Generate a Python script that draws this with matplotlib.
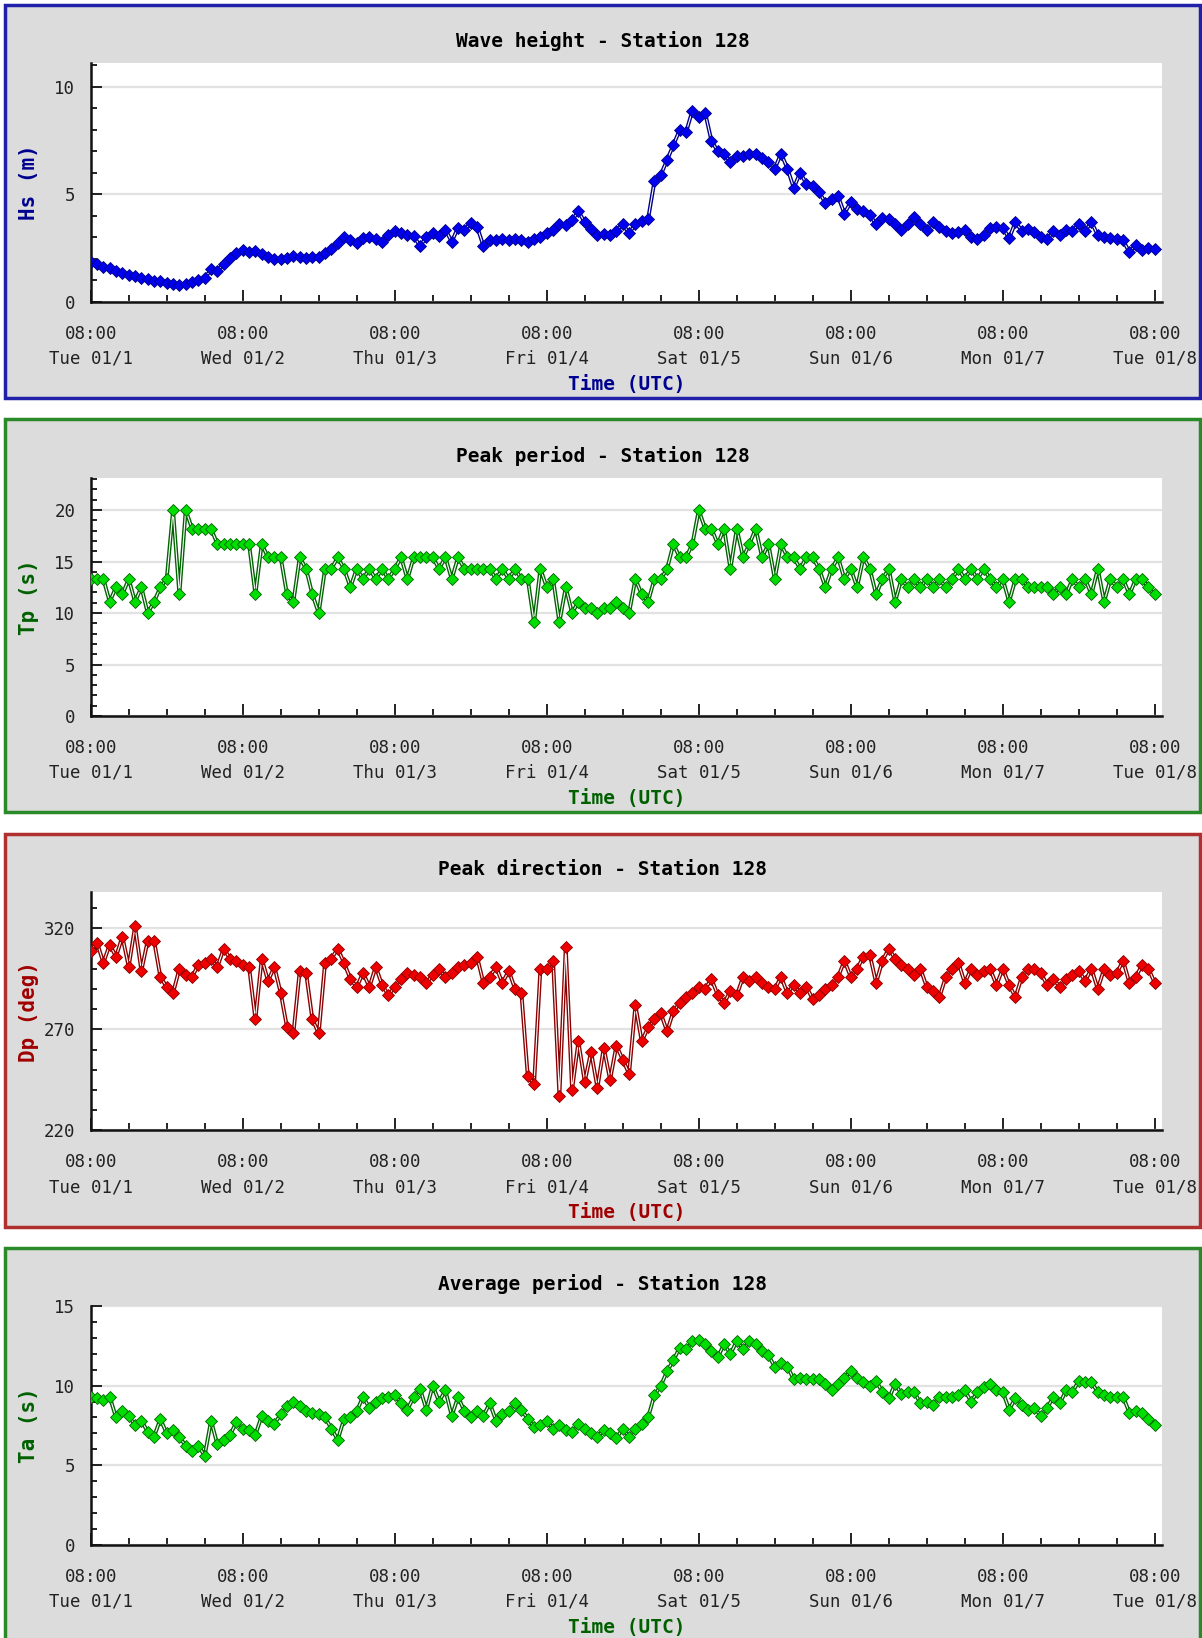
import numpy as np
import matplotlib
matplotlib.use('Agg')
import matplotlib.pyplot as plt
import matplotlib.patheffects as pe
from matplotlib.patches import Rectangle
from matplotlib.ticker import MultipleLocator

plt.rcParams['font.family'] = ['DejaVu Sans Mono']

# hourly samples from Tue 01/1 08:00 UTC to Tue 01/8 08:00 UTC
day_labels = ['Tue 01/1', 'Wed 01/2', 'Thu 01/3', 'Fri 01/4',
              'Sat 01/5', 'Sun 01/6', 'Mon 01/7', 'Tue 01/8']

# wave height (m)
hs = [1.86, 1.75, 1.63, 1.55, 1.42, 1.35, 1.26, 1.20, 1.10, 1.05, 0.98, 0.95, 0.85, 0.82, 0.78, 0.82, 0.90, 1.00, 1.10, 1.50, 1.45, 1.75, 2.05, 2.25,
      2.40, 2.30, 2.35, 2.20, 2.10, 2.00, 1.97, 2.05, 2.15, 2.10, 2.05, 2.10, 2.10, 2.25, 2.45, 2.75, 3.00, 2.85, 2.75, 2.95, 3.00, 2.90, 2.80, 3.10,
      3.30, 3.20, 3.10, 3.05, 2.60, 3.00, 3.20, 3.05, 3.35, 2.80, 3.45, 3.35, 3.65, 3.50, 2.60, 2.85, 2.85, 2.90, 2.85, 2.90, 2.85, 2.80, 2.90, 3.00,
      3.20, 3.35, 3.60, 3.55, 3.80, 4.20, 3.70, 3.40, 3.10, 3.15, 3.10, 3.30, 3.60, 3.20, 3.60, 3.75, 3.85, 5.60, 5.90, 6.60, 7.30, 8.00, 7.90, 8.90,
      8.60, 8.80, 7.50, 7.00, 6.90, 6.50, 6.80, 6.80, 6.90, 6.90, 6.70, 6.50, 6.20, 6.90, 6.20, 5.30, 6.00, 5.50, 5.40, 5.10, 4.60, 4.80, 4.90, 4.10,
      4.65, 4.30, 4.20, 4.05, 3.60, 3.90, 3.85, 3.60, 3.35, 3.60, 3.95, 3.60, 3.35, 3.70, 3.50, 3.30, 3.20, 3.25, 3.35, 3.00, 2.90, 3.10, 3.45, 3.50,
      3.45, 2.95, 3.70, 3.30, 3.40, 3.25, 3.00, 2.90, 3.30, 3.10, 3.35, 3.30, 3.60, 3.30, 3.70, 3.10, 3.00, 2.95, 2.90, 2.85, 2.30, 2.65, 2.40, 2.50, 2.45]

# peak period (s)
tp = [13.3, 13.3, 13.3, 11.1, 12.5, 11.8, 13.3, 11.1, 12.5, 10.0, 11.1, 12.5, 13.3, 20.0, 11.8, 20.0, 18.2, 18.2, 18.2, 18.2, 16.7, 16.7, 16.7, 16.7,
      16.7, 16.7, 11.8, 16.7, 15.4, 15.4, 15.4, 11.8, 11.1, 15.4, 14.3, 11.8, 10.0, 14.3, 14.3, 15.4, 14.3, 12.5, 14.3, 13.3, 14.3, 13.3, 14.3, 13.3,
      14.3, 15.4, 13.3, 15.4, 15.4, 15.4, 15.4, 14.3, 15.4, 13.3, 15.4, 14.3, 14.3, 14.3, 14.3, 14.3, 13.3, 14.3, 13.3, 14.3, 13.3, 13.3, 9.1, 14.3,
      12.5, 13.3, 9.1, 12.5, 10.0, 11.1, 10.5, 10.5, 10.0, 10.5, 10.5, 11.1, 10.5, 10.0, 13.3, 11.8, 11.1, 13.3, 13.3, 14.3, 16.7, 15.4, 15.4, 16.7,
      20.0, 18.2, 18.2, 16.7, 18.2, 14.3, 18.2, 15.4, 16.7, 18.2, 15.4, 16.7, 13.3, 16.7, 15.4, 15.4, 14.3, 15.4, 15.4, 14.3, 12.5, 14.3, 15.4, 13.3,
      14.3, 12.5, 15.4, 14.3, 11.8, 13.3, 14.3, 11.1, 13.3, 12.5, 13.3, 12.5, 13.3, 12.5, 13.3, 12.5, 13.3, 14.3, 13.3, 14.3, 13.3, 14.3, 13.3, 12.5,
      13.3, 11.1, 13.3, 13.3, 12.5, 12.5, 12.5, 12.5, 11.8, 12.5, 11.8, 13.3, 12.5, 13.3, 11.8, 14.3, 11.1, 13.3, 12.5, 13.3, 11.8, 13.3, 13.3, 12.5, 11.8]

# peak direction (deg)
dp = [309, 313, 303, 312, 306, 316, 301, 321, 299, 314, 314, 296, 291, 288, 300, 297, 296, 302, 303, 305, 301, 310, 305, 304,
      302, 301, 275, 305, 294, 301, 288, 271, 268, 299, 298, 275, 268, 303, 305, 310, 303, 295, 291, 298, 291, 301, 292, 287,
      291, 295, 298, 297, 296, 293, 297, 300, 296, 298, 301, 302, 303, 306, 293, 296, 301, 293, 299, 290, 288, 247, 243, 300,
      300, 304, 237, 311, 240, 264, 244, 259, 241, 261, 245, 262, 255, 248, 282, 264, 271, 275, 278, 269, 279, 283, 286, 288,
      291, 290, 295, 287, 283, 289, 287, 296, 294, 296, 293, 291, 290, 296, 288, 292, 288, 291, 285, 287, 290, 292, 296, 304,
      296, 300, 306, 307, 293, 304, 310, 305, 302, 300, 297, 300, 291, 289, 286, 296, 300, 303, 293, 300, 297, 299, 300, 292,
      300, 292, 286, 296, 300, 300, 298, 292, 295, 291, 295, 297, 299, 294, 300, 290, 300, 297, 298, 304, 293, 296, 302, 300, 293]

# average period (s)
ta = [9.3, 9.2, 9.1, 9.3, 8.0, 8.4, 8.1, 7.5, 7.8, 7.1, 6.8, 7.9, 7.0, 7.2, 6.8, 6.2, 5.9, 6.2, 5.6, 7.8, 6.3, 6.6, 6.9, 7.7,
      7.3, 7.2, 6.9, 8.1, 7.8, 7.6, 8.2, 8.7, 9.0, 8.7, 8.4, 8.3, 8.2, 8.0, 7.3, 6.6, 7.9, 8.0, 8.4, 9.3, 8.6, 9.0, 9.2, 9.3,
      9.4, 8.9, 8.5, 9.3, 9.8, 8.5, 10.0, 9.0, 9.7, 8.1, 9.3, 8.4, 8.0, 8.4, 8.1, 8.9, 7.8, 8.2, 8.4, 8.9, 8.5, 7.9, 7.4, 7.5,
      7.8, 7.3, 7.5, 7.2, 7.1, 7.6, 7.3, 7.0, 6.8, 7.2, 7.0, 6.7, 7.3, 6.8, 7.3, 7.6, 8.0, 9.4, 10.0, 10.9, 11.6, 12.4, 12.3, 12.8,
      12.9, 12.6, 12.2, 11.8, 12.6, 12.0, 12.8, 12.3, 12.8, 12.6, 12.2, 11.9, 11.2, 11.4, 11.2, 10.4, 10.5, 10.4, 10.4, 10.4, 10.1, 9.7, 10.1, 10.5,
      10.9, 10.5, 10.2, 10.0, 10.3, 9.6, 9.2, 10.1, 9.5, 9.6, 9.6, 8.9, 9.0, 8.8, 9.3, 9.3, 9.3, 9.4, 9.7, 9.0, 9.6, 9.9, 10.1, 9.7,
      9.6, 8.5, 9.2, 8.8, 8.5, 8.6, 8.1, 8.6, 9.3, 8.9, 9.7, 9.6, 10.3, 10.2, 10.2, 9.6, 9.4, 9.3, 9.3, 9.3, 8.3, 8.4, 8.3, 7.9, 7.5]

W, H = 1202, 1638
fig = plt.figure(figsize=(W / 100, H / 100), dpi=100)
fig.patch.set_facecolor('white')


def panel(i, series, title, ylabel, ylim, yticks, minor, face, dark, label_col, border):
    top = 5 + 414.3 * i
    fig.add_artist(Rectangle((5 / W, 1 - (top + 393) / H), 1195 / W, 393 / H,
                             transform=fig.transFigure, facecolor='#dcdcdc',
                             edgecolor=border, linewidth=2.5, zorder=-5))
    fig.text(603 / W, 1 - (top + 36.2) / H, title, ha='center', va='center',
             fontsize=14, fontweight='bold', color='black')

    ax = fig.add_axes([90.7 / W, 1 - (top + 296.7) / H, 1071.7 / W, 238.4 / H])
    ax.set_zorder(2)
    ax.set_facecolor('white')
    hours = np.arange(len(series))
    ax.plot(hours, series, color='white', lw=0.8,
            path_effects=[pe.Stroke(linewidth=2.8, foreground=dark), pe.Normal()],
            zorder=3)
    ax.plot(hours, series, ls='none', marker='D', ms=6.3, mfc=face, mec=dark,
            mew=0.6, zorder=4)

    ax.set_xlim(0, 169.2)
    ax.set_ylim(*ylim)
    ax.xaxis.set_minor_locator(MultipleLocator(6))
    ax.set_xticks(np.arange(0, 169, 24))
    ax.set_xticklabels(['08:00\n' + d for d in day_labels])
    for lbl in ax.get_xticklabels():
        lbl.set_linespacing(1.5)
    ax.set_yticks(yticks)
    ax.set_yticks(np.arange(ylim[0], ylim[1], minor), minor=True)

    ax.grid(axis='y', which='major', color='#e2e2e2', lw=1.6, zorder=0)
    ax.set_axisbelow(True)
    for s in ['top', 'right']:
        ax.spines[s].set_visible(False)
    for s in ['left', 'bottom']:
        ax.spines[s].set_linewidth(1.8)
        ax.spines[s].set_color('#111111')
    ax.tick_params(axis='both', which='both', direction='in', colors='#111111',
                   labelcolor='#222222', labelsize=12.5, width=1.3)
    ax.tick_params(axis='x', which='major', length=9, pad=16.5)
    ax.tick_params(axis='x', which='minor', length=5)
    ax.tick_params(axis='y', which='major', length=8, pad=11)
    ax.tick_params(axis='y', which='minor', length=4)

    ax.text(-0.0575, 0.5, ylabel, transform=ax.transAxes, rotation=90,
            ha='center', va='center', fontsize=15, fontweight='bold', color=label_col)
    ax.text(0.5, -82.5 / 238.4, 'Time (UTC)', transform=ax.transAxes,
            ha='center', va='center', fontsize=14, fontweight='bold', color=label_col)
    return ax


panel(0, hs, 'Wave height - Station 128', 'Hs (m)', (0, 11.1), [0, 5, 10], 1,
      '#0000ee', '#00008b', '#000090', '#2020a8')
panel(1, tp, 'Peak period - Station 128', 'Tp (s)', (0, 23.15), [0, 5, 10, 15, 20], 1,
      '#00dd00', '#006400', '#006000', '#2a8a2a')
panel(2, dp, 'Peak direction - Station 128', 'Dp (deg)', (220, 338.1), [220, 270, 320], 10,
      '#ee0000', '#8b0000', '#a00000', '#b03030')
panel(3, ta, 'Average period - Station 128', 'Ta (s)', (0, 15), [0, 5, 10, 15], 1,
      '#00dd00', '#006400', '#006000', '#2a8a2a')

fig.savefig('out.png', dpi=100, facecolor='white')
